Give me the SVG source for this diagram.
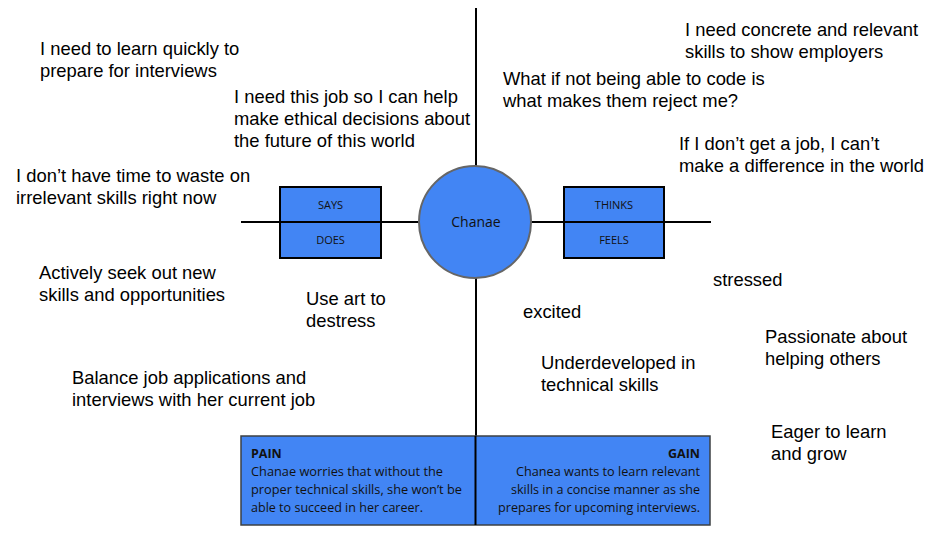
<svg xmlns="http://www.w3.org/2000/svg" width="952" height="535" viewBox="0 0 952 535">
<style>
.t{font-family:"Liberation Sans",Arial,sans-serif;font-size:18.4px;fill:#000}
.c{font-family:"Open Sans","Noto Sans",sans-serif;fill:#111}
.lbl{font-size:11px;text-anchor:middle}
.box{fill:#4285f4;stroke:#000;stroke-width:2}
.ln{stroke:#000;stroke-width:2;fill:none}
.pg{font-size:12.5px}
</style>
<rect width="952" height="535" fill="#fff"/>
<g id="connectors">
<line class="ln" x1="476" y1="8" x2="476" y2="436"/>
<line class="ln" x1="241" y1="222" x2="711" y2="222"/>
</g>
<g id="says-does">
<rect class="box" x="280" y="187" width="101" height="71"/>
<line class="ln" x1="280" y1="222" x2="381" y2="222"/>
<text class="c lbl" x="330.5" y="209">SAYS</text>
<text class="c lbl" x="330.5" y="244">DOES</text>
</g>
<g id="thinks-feels">
<rect class="box" x="564" y="187" width="100" height="71"/>
<line class="ln" x1="564" y1="222" x2="664" y2="222"/>
<text class="c lbl" x="614" y="209">THINKS</text>
<text class="c lbl" x="614" y="244">FEELS</text>
</g>
<g id="chanae">
<circle cx="475" cy="222" r="56" fill="#4285f4" stroke="#666" stroke-width="2"/>
<text class="c" x="476" y="227" font-size="14" text-anchor="middle">Chanae</text>
</g>
<g id="pain-gain">
<rect x="241" y="436" width="469" height="89" fill="#4285f4" stroke="#3c4043" stroke-width="1.5"/>
<line class="ln" x1="475.5" y1="436" x2="475.5" y2="525" stroke-width="1.5"/>
<text class="c pg" x="251" y="458" font-weight="bold">PAIN</text>
<text class="c pg" x="251" y="476" textLength="192" lengthAdjust="spacingAndGlyphs">Chanae worries that without the</text>
<text class="c pg" x="251" y="494" textLength="211" lengthAdjust="spacingAndGlyphs">proper technical skills, she won’t be</text>
<text class="c pg" x="251" y="512" textLength="172" lengthAdjust="spacingAndGlyphs">able to succeed in her career.</text>
<text class="c pg" x="700" y="458" font-weight="bold" text-anchor="end">GAIN</text>
<text class="c pg" x="700" y="476" text-anchor="end" textLength="184" lengthAdjust="spacingAndGlyphs">Chanea wants to learn relevant</text>
<text class="c pg" x="700" y="494" text-anchor="end" textLength="189" lengthAdjust="spacingAndGlyphs">skills in a concise manner as she</text>
<text class="c pg" x="700" y="512" text-anchor="end" textLength="202" lengthAdjust="spacingAndGlyphs">prepares for upcoming interviews.</text>
</g>
<g id="says-1"><text class="t" x="40" y="55">I need to learn quickly to</text><text class="t" x="40" y="77">prepare for interviews</text></g>
<g id="says-2"><text class="t" x="234" y="103">I need this job so I can help</text><text class="t" x="234" y="125">make ethical decisions about</text><text class="t" x="234" y="147">the future of this world</text></g>
<g id="says-3"><text class="t" x="16" y="182">I don’t have time to waste on</text><text class="t" x="16" y="204">irrelevant skills right now</text></g>
<g id="does-1"><text class="t" x="39" y="279">Actively seek out new</text><text class="t" x="39" y="301">skills and opportunities</text></g>
<g id="does-2"><text class="t" x="306" y="305">Use art to</text><text class="t" x="306" y="327">destress</text></g>
<g id="does-3"><text class="t" x="72" y="384">Balance job applications and</text><text class="t" x="72" y="406">interviews with her current job</text></g>
<g id="thinks-1"><text class="t" x="685" y="36">I need concrete and relevant</text><text class="t" x="685" y="58">skills to show employers</text></g>
<g id="thinks-2"><text class="t" x="503" y="85">What if not being able to code is</text><text class="t" x="503" y="107">what makes them reject me?</text></g>
<g id="thinks-3"><text class="t" x="679" y="150">If I don’t get a job, I can’t</text><text class="t" x="679" y="172">make a difference in the world</text></g>
<g id="feels-1"><text class="t" x="713" y="286">stressed</text></g>
<g id="feels-2"><text class="t" x="523" y="318">excited</text></g>
<g id="feels-3"><text class="t" x="765" y="343">Passionate about</text><text class="t" x="765" y="365">helping others</text></g>
<g id="feels-4"><text class="t" x="541" y="369">Underdeveloped in</text><text class="t" x="541" y="391">technical skills</text></g>
<g id="feels-5"><text class="t" x="771" y="438">Eager to learn</text><text class="t" x="771" y="460">and grow</text></g>
</svg>
